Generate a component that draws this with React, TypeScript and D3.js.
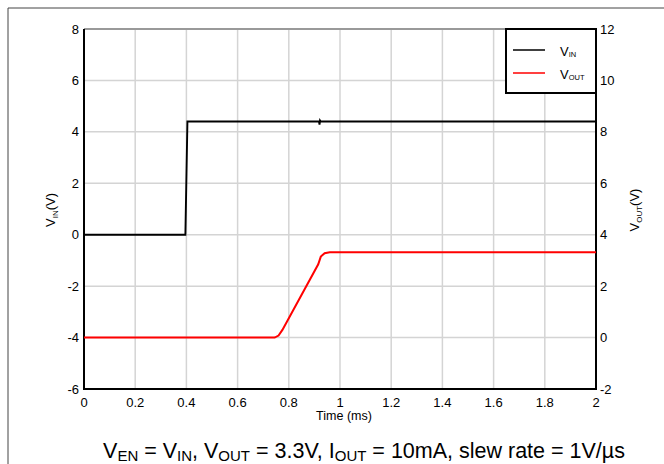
import React from "react";
import * as d3 from "d3";

const xTicks = [0, 0.2, 0.4, 0.6, 0.8, 1, 1.2, 1.4, 1.6, 1.8, 2];
const leftTicks = [-6, -4, -2, 0, 2, 4, 6, 8];
const rightTicks = [-2, 0, 2, 4, 6, 8, 10, 12];

const vinTime = [0, 0.396, 0.404, 0.6, 0.918, 0.92, 0.922, 0.925, 1.4, 2.0];
const vinValue = [0, 0, 4.4, 4.4, 4.4, 4.28, 4.44, 4.4, 4.4, 4.4];

const voutTime = [0, 0.745, 0.76, 0.775, 0.915, 0.925, 0.94, 0.96, 1.5, 2.0];
const voutValue = [0, 0, 0.08, 0.3, 2.85, 3.15, 3.28, 3.32, 3.32, 3.32];

const W = 664;
const H = 464;
const M = { left: 84, right: 596, top: 29, bottom: 389 };
const FONT = "'Liberation Sans', Arial, sans-serif";

export default function App() {
  const x = d3.scaleLinear().domain([0, 2]).range([M.left, M.right]);
  const yL = d3.scaleLinear().domain([-6, 8]).range([M.bottom, M.top]);
  const yR = d3.scaleLinear().domain([-2, 12]).range([M.bottom, M.top]);

  const lineL = d3
    .line<number>()
    .x((_, i) => x(vinTime[i]))
    .y((d) => yL(d));
  const lineR = d3
    .line<number>()
    .x((_, i) => x(voutTime[i]))
    .y((d) => yR(d));

  return (
    <svg
      width={W}
      height={H}
      style={{ position: "absolute", left: 0, top: 0, background: "#fff" }}
      fontFamily={FONT}
    >
      {/* outer frame */}
      <line x1={8} y1={8} x2={W} y2={8} stroke="#444" strokeWidth={1} />
      <line x1={8} y1={8} x2={8} y2={H} stroke="#444" strokeWidth={1} />

      {/* grid */}
      {xTicks.slice(1, -1).map((t) => (
        <line key={"gx" + t} x1={x(t)} x2={x(t)} y1={M.top} y2={M.bottom} stroke="#d4d4d4" strokeWidth={1.5} />
      ))}
      {leftTicks.slice(1, -1).map((t) => (
        <line key={"gy" + t} x1={M.left} x2={M.right} y1={yL(t)} y2={yL(t)} stroke="#d4d4d4" strokeWidth={1.5} />
      ))}

      {/* plot border */}
      <line x1={M.left} x2={M.right} y1={M.top} y2={M.top} stroke="#999" strokeWidth={2} />
      <line x1={M.left} x2={M.left} y1={M.top} y2={M.bottom} stroke="#000" strokeWidth={2} />
      <line x1={M.right} x2={M.right} y1={M.top} y2={M.bottom} stroke="#000" strokeWidth={2} />
      <line x1={M.left - 1} x2={M.right + 1} y1={M.bottom} y2={M.bottom} stroke="#000" strokeWidth={2} />

      {/* data */}
      <path d={lineL(vinValue) || ""} fill="none" stroke="#000" strokeWidth={1.9} />
      <path d={lineR(voutValue) || ""} fill="none" stroke="#ff0000" strokeWidth={2} />

      {/* left ticks */}
      {leftTicks.map((t) => (
        <text key={"l" + t} x={M.left - 5} y={yL(t)} dy="0.35em" textAnchor="end" fontSize={13} fill="#000">
          {t}
        </text>
      ))}
      {rightTicks.map((t) => (
        <text key={"r" + t} x={M.right + 4} y={yR(t)} dy="0.35em" textAnchor="start" fontSize={13} fill="#000">
          {t}
        </text>
      ))}
      {xTicks.map((t) => (
        <text key={"x" + t} x={x(t)} y={407} textAnchor="middle" fontSize={13} fill="#000">
          {t}
        </text>
      ))}

      <text x={344} y={420} textAnchor="middle" fontSize={12.5} fill="#000">
        Time (ms)
      </text>

      {/* left axis label */}
      <text transform="translate(55,210) rotate(-90)" textAnchor="middle" fontSize={13} fill="#000">
        V<tspan fontSize={8} dy={3}>IN</tspan>
        <tspan dy={-3}>(V)</tspan>
      </text>
      {/* right axis label */}
      <text transform="translate(639,210) rotate(-90)" textAnchor="middle" fontSize={13} fill="#000">
        V<tspan fontSize={8} dy={3}>OUT</tspan>
        <tspan dy={-3}>(V)</tspan>
      </text>

      {/* legend */}
      <rect x={506} y={29} width={90} height={64} fill="#fff" stroke="#000" strokeWidth={2} />
      <line x1={513} x2={545} y1={50} y2={50} stroke="#000" strokeWidth={1.5} />
      <line x1={513} x2={545} y1={73} y2={73} stroke="#ff0000" strokeWidth={1.5} />
      <text x={560} y={56} fontSize={13} fill="#000">
        V<tspan fontSize={7.5} dy={1}>IN</tspan>
      </text>
      <text x={560} y={79} fontSize={13} fill="#000">
        V<tspan fontSize={7.5} dy={1}>OUT</tspan>
      </text>

      {/* caption */}
      <text x={364} y={458} textAnchor="middle" fontSize={21.5} fill="#000">
        V<tspan fontSize={15} dy={2.5}>EN</tspan>
        <tspan dy={-2.5}> = V</tspan>
        <tspan fontSize={15} dy={2.5}>IN</tspan>
        <tspan dy={-2.5}>, V</tspan>
        <tspan fontSize={15} dy={2.5}>OUT</tspan>
        <tspan dy={-2.5}> = 3.3V, I</tspan>
        <tspan fontSize={15} dy={2.5}>OUT</tspan>
        <tspan dy={-2.5}> = 10mA, slew rate = 1V/µs</tspan>
      </text>
    </svg>
  );
}
